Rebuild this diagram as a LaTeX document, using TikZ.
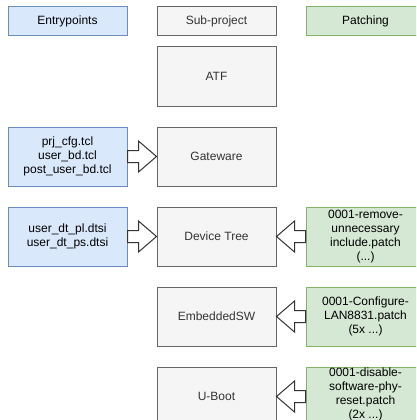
\documentclass[tikz,border=0pt]{standalone}
\usepackage{fontspec}
\setmainfont{Liberation Sans}
\usetikzlibrary{positioning,calc}
\definecolor{subfill}{HTML}{F5F5F5}
\definecolor{subline}{HTML}{666666}
\definecolor{subtext}{HTML}{333333}
\definecolor{entryfill}{HTML}{DAE8FC}
\definecolor{entryline}{HTML}{6C8EBF}
\definecolor{patchfill}{HTML}{D5E8D4}
\definecolor{patchline}{HTML}{82B366}
% hollow block arrow from #1 to #2 (same height)
\newcommand{\blockarrow}[2]{%
	\draw[arrowline] let \p1=(#1), \p2=(#2), \n1={sign(\x2-\x1)} in
		(\x1,\y1+6pt) -- (\x2-\n1*18pt,\y1+6pt) -- (\x2-\n1*18pt,\y1+15.5pt) -- (\x2,\y1)
		-- (\x2-\n1*18pt,\y1-15.5pt) -- (\x2-\n1*18pt,\y1-6pt) -- (\x1,\y1-6pt) -- cycle;}
\begin{document}
\begin{tikzpicture}[x=1pt, y=1pt,
	box/.style={draw, line width=1pt, minimum width=119pt, minimum height=59pt, align=center, inner sep=1pt, font=\fontsize{12}{14}\selectfont},
	subbox/.style={box, fill=subfill, draw=subline, text=subtext},
	entrybox/.style={box, fill=entryfill, draw=entryline},
	patchbox/.style={box, fill=patchfill, draw=patchline},
	headbox/.style={minimum height=29pt},
	arrowline/.style={draw=subtext, fill=white, line width=1pt, line join=miter}]
	\clip (0,0) rectangle (416,-420);

	\node[subbox, headbox] (sub) at (216.5,-21.5) {Sub-project};
	\node[entrybox, headbox] (entry) [left=29pt of sub] {Entrypoints};
	\node[patchbox, headbox] (patch) [right=29pt of sub] {Patching};

	\node[subbox] (atf) [below=10pt of sub] {ATF};
	\node[subbox] (gateware) [below=20pt of atf] {Gateware};
	\node[subbox] (devtree) [below=20pt of gateware] {Device Tree};
	\node[subbox] (embsw) [below=20pt of devtree] {EmbeddedSW};
	\node[subbox] (uboot) [below=20pt of embsw] {U-Boot};

	\node[entrybox] (gwentry) [left=29pt of gateware] {prj\_cfg.tcl\\user\_bd.tcl\\post\_user\_bd.tcl};
	\node[entrybox] (dtentry) [left=29pt of devtree] {user\_dt\_pl.dtsi\\user\_dt\_ps.dtsi};

	\node[patchbox] (dtpatch) [right=29pt of devtree] {0001-remove-\\unnecessary\\include.patch\\(...)};
	\node[patchbox] (swpatch) [right=29pt of embsw] {0001-Configure-\\LAN8831.patch\\(5x ...)};
	\node[patchbox] (ubpatch) [right=29pt of uboot] {0001-disable-\\software-phy-\\reset.patch\\(2x ...)\\[-8pt]\mbox{}};

	\blockarrow{gwentry.east}{gateware.west}
	\blockarrow{dtentry.east}{devtree.west}
	\blockarrow{dtpatch.west}{devtree.east}
	\blockarrow{swpatch.west}{embsw.east}
	\blockarrow{ubpatch.west}{uboot.east}
\end{tikzpicture}
\end{document}
